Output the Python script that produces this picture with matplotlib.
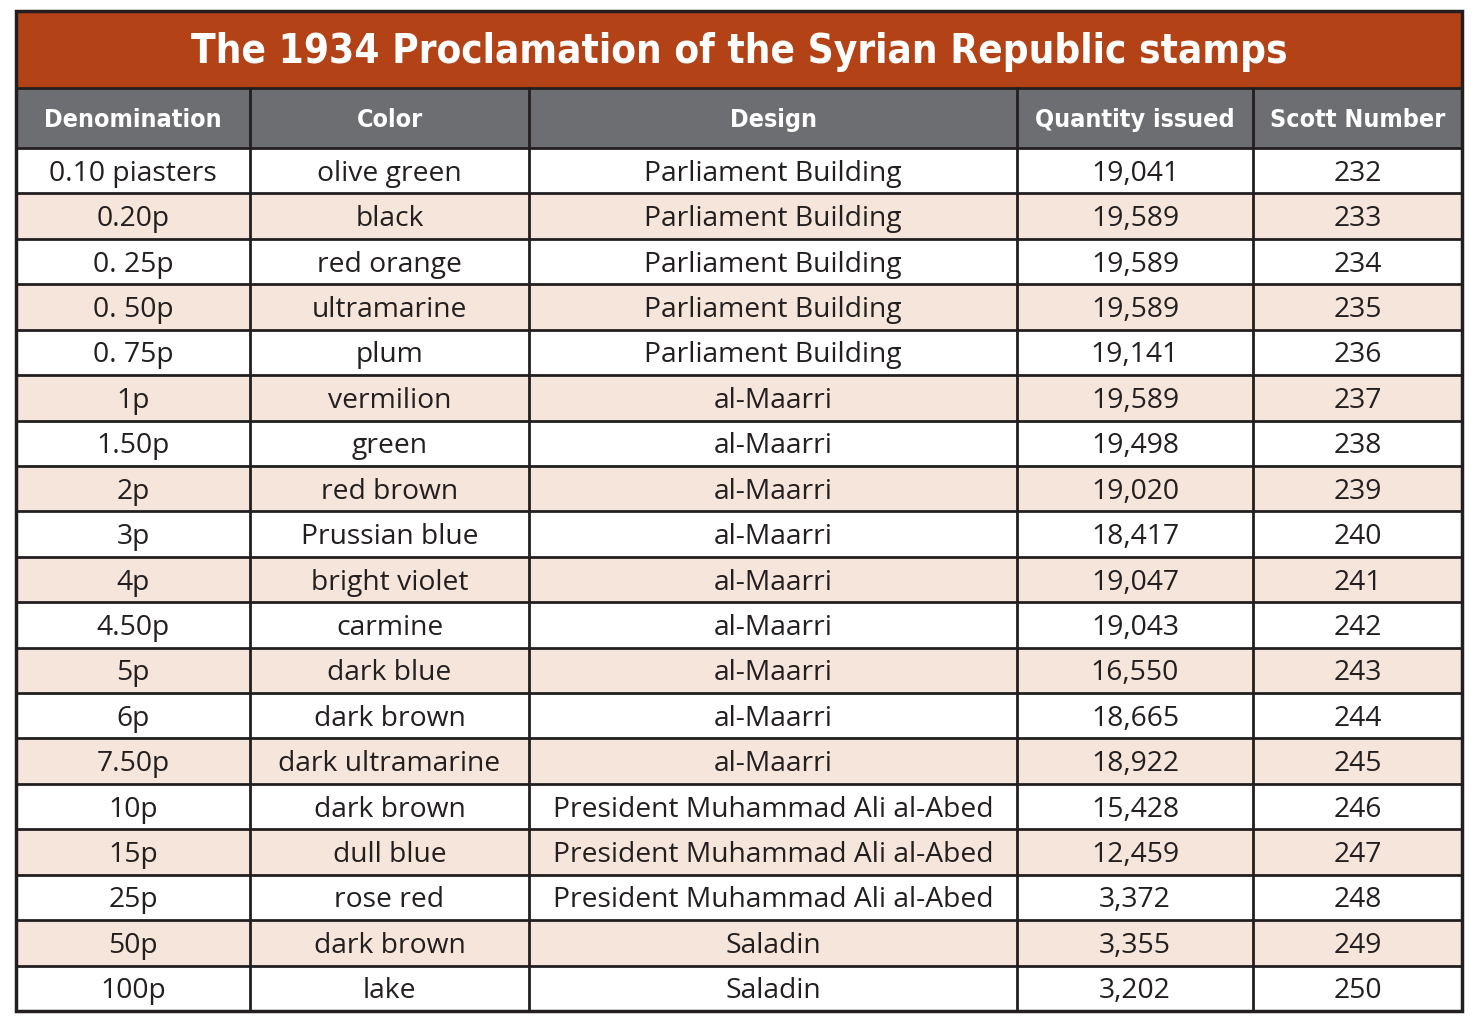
import matplotlib.pyplot as plt
from matplotlib.patches import Rectangle

title = "The 1934 Proclamation of the Syrian Republic stamps"
columns = ["Denomination", "Color", "Design", "Quantity issued", "Scott Number"]

denominations = ["0.10 piasters", "0.20p", "0. 25p", "0. 50p", "0. 75p", "1p", "1.50p",
                 "2p", "3p", "4p", "4.50p", "5p", "6p", "7.50p", "10p", "15p", "25p",
                 "50p", "100p"]
colors = ["olive green", "black", "red orange", "ultramarine", "plum", "vermilion",
          "green", "red brown", "Prussian blue", "bright violet", "carmine", "dark blue",
          "dark brown", "dark ultramarine", "dark brown", "dull blue", "rose red",
          "dark brown", "lake"]
designs = ["Parliament Building"] * 5 + ["al-Maarri"] * 9 + \
          ["President Muhammad Ali al-Abed"] * 3 + ["Saladin"] * 2
quantities = [19041, 19589, 19589, 19589, 19141, 19589, 19498, 19020, 18417, 19047,
              19043, 16550, 18665, 18922, 15428, 12459, 3372, 3355, 3202]
scott = list(range(232, 251))

# layout in pixels
col_edges = [16, 250, 529, 1017, 1253, 1462]
top, title_bottom, header_bottom, bottom = 11, 88, 148, 1011

TITLE_BG = "#B34316"
HEAD_BG = "#6D6E71"
ALT_BG = "#F6E5DA"
LINE = "#231F20"

body_font = ["Open Sans", "DejaVu Sans"]
head_font = ["DejaVu Sans"]

fig = plt.figure(figsize=(14.8, 10.21), dpi=100)
ax = fig.add_axes([0, 0, 1, 1])
ax.set_xlim(0, 1480)
ax.set_ylim(1021, 0)
ax.axis("off")

left, right = col_edges[0], col_edges[-1]
n = len(denominations)
row_h = (bottom - header_bottom) / n

# title band
ax.add_patch(Rectangle((left, top), right - left, title_bottom - top, facecolor=TITLE_BG,
                       edgecolor="none"))
ax.text((left + right) / 2, (top + title_bottom) / 2 + 2, title, color="white",
        fontsize=29, fontweight="bold", fontstretch="condensed", family=head_font,
        ha="center", va="center")

# header
ax.add_patch(Rectangle((left, title_bottom), right - left, header_bottom - title_bottom,
                       facecolor=HEAD_BG, edgecolor="none"))
for i, name in enumerate(columns):
    cx = (col_edges[i] + col_edges[i + 1]) / 2
    ax.text(cx, (title_bottom + header_bottom) / 2 + 2, name, color="white", fontsize=18,
            fontweight="bold", fontstretch="condensed", family=head_font,
            ha="center", va="center")

# body rows
for r in range(n):
    y0 = header_bottom + r * row_h
    if r % 2 == 1:
        ax.add_patch(Rectangle((left, y0), right - left, row_h, facecolor=ALT_BG,
                               edgecolor="none"))
    cells = [denominations[r], colors[r], designs[r], f"{quantities[r]:,}", str(scott[r])]
    for i, val in enumerate(cells):
        cx = (col_edges[i] + col_edges[i + 1]) / 2
        ax.text(cx, y0 + row_h / 2 + 3, val, color="#231F20", fontsize=20.3,
                family=body_font, ha="center", va="center")

# grid lines
for r in range(n + 1):
    y = header_bottom + r * row_h
    ax.plot([left, right], [y, y], color=LINE, lw=2)
ax.plot([left, right], [title_bottom, title_bottom], color=LINE, lw=2)
for x in col_edges[1:-1]:
    ax.plot([x, x], [title_bottom, bottom], color=LINE, lw=2)
ax.add_patch(Rectangle((left, top), right - left, bottom - top, facecolor="none",
                       edgecolor=LINE, lw=2.5))

fig.savefig("out.png", dpi=100)
